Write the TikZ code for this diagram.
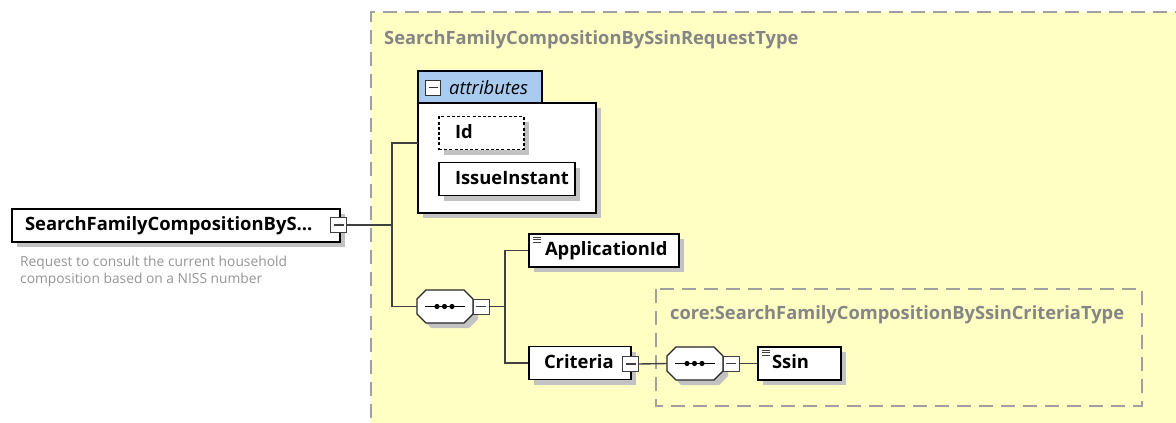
\documentclass[tikz,border=0pt]{standalone}
\usepackage{fontspec}
\setmainfont{Open Sans}
\usetikzlibrary{calc,shadows}
\definecolor{yel}{HTML}{FFFFC4}
\definecolor{dashgray}{HTML}{A0A0A0}
\definecolor{shad}{HTML}{C2C2C2}
\definecolor{tabblue}{HTML}{A9CBEF}
\definecolor{wire}{HTML}{404040}
\definecolor{titlegray}{HTML}{858585}
\definecolor{descgray}{HTML}{959595}
\newcommand\lblfont{\fontsize{18.4}{21}\selectfont\bfseries}
\newcommand\octpath[4]{({#1+9},#2) -- ({#3-9},#2) -- (#3,{#2+9}) -- (#3,{#4-9}) -- ({#3-9},#4) -- ({#1+9},#4) -- (#1,{#4-9}) -- (#1,{#2+9}) -- cycle}
\tikzset{
  sh/.style={drop shadow={shadow xshift=5pt, shadow yshift=-5pt, opacity=1, fill=shad}},
  elem/.style={sh, draw=black, line width=1.3pt, fill=white, inner sep=0pt, minimum height=33pt,
    font=\lblfont, text height=14pt, text depth=4pt},
  iconlines/.style={path picture={
      \foreach \k in {3,5.5,8}{\draw[line width=0.8pt, black!75]
        ([xshift=4pt,yshift=-\k pt]path picture bounding box.north west) -- ++(8pt,0);}}},
  expander/.style={draw=wire, line width=1pt, fill=white, minimum width=16pt, minimum height=15pt, inner sep=0pt,
    path picture={\draw[line width=1pt, wire] ([xshift=3pt]path picture bounding box.west) -- ([xshift=-3pt]path picture bounding box.east);}},
  wire/.style={draw=wire, line width=1.4pt},
  ghost/.style={draw=none, inner sep=0pt},
  dashbox/.style={draw=dashgray, line width=1.6pt, dash pattern=on 14pt off 8pt},
  typetitle/.style={anchor=west, text=titlegray, font=\fontsize{18.3}{21}\selectfont\bfseries, inner sep=0pt},
}
\begin{document}
\begin{tikzpicture}[x=1pt,y=-1pt]
\useasboundingbox (0,0) rectangle (1176,423);
\clip (0,0) rectangle (1176,423);
\fill[white] (0,0) rectangle (1176,423);
% outer complex type
\fill[yel] (371,12) rectangle (1200,440);
\draw[dashbox] (371,440) -- (371,12) -- (1200,12);
\node[typetitle] (outertitle) at (384,40) {SearchFamilyCompositionBySsinRequestType};
% inner complex type
\draw[dashbox] (656,289) rectangle (1142,406);
\node[typetitle] (innertitle) at (670,315) {core:SearchFamilyCompositionBySsinCriteriaType};

% root element
\node[elem, minimum width=328pt, text width=302pt, align=left] (root) at (176,225.5) {SearchFamilyCompositionByS...};
\node[expander] (rootexp) at (338.5,225) {};
\node[anchor=north west, inner sep=0pt, text=descgray, font=\fontsize{13.8}{17}\selectfont, align=left] (desc) at (20,256) {Request to consult the current household\\composition based on a NISS number};

% attributes
\fill[shad] (423,108) rectangle (601,218);
\node[draw=black, line width=1.3pt, fill=white, minimum width=178pt, minimum height=110pt, inner sep=0pt] (attrbody) at (507,158) {};
\node[draw=black, line width=1.3pt, fill=tabblue, minimum width=124pt, minimum height=32pt, inner sep=0pt] (attrtab) at (480,87) {};
\node[draw=black!80, line width=1pt, fill=white, minimum width=15pt, minimum height=15pt, inner sep=0pt,
  path picture={\draw[line width=1pt] ([xshift=3pt]path picture bounding box.west) -- ([xshift=-3pt]path picture bounding box.east);}] (attrexp) at (433,87.5) {};
\node[anchor=west, inner sep=0pt, font=\fontsize{18.4}{21}\selectfont\itshape] (attrlbl) at (449,88) {attributes};
\node[elem, dash pattern=on 3pt off 2.2pt, minimum width=85pt, text width=53pt, align=left] (id) at (481.5,133) {Id};
\node[elem, minimum width=136pt, text width=104pt, align=left] (issue) at (507,179) {IssueInstant};

% sequence 1
\node[ghost, minimum width=56pt, minimum height=33pt] (seq1) at (445,306.5) {};
\fill[shad, shift={(5,5)}] \octpath{417}{290}{473}{323};
\draw[draw=black!85, line width=1.3pt, fill=white] \octpath{417}{290}{473}{323};
\draw[line width=1.2pt] (425,306.5) -- (465,306.5);
\foreach \dx in {437,444.5,452}{\fill (\dx,306.5) circle (2.6pt);}
\node[expander] (seq1exp) at (481,306.5) {};

\node[elem, iconlines, minimum width=150pt, text width=118pt, align=left] (appid) at (604,250.5) {ApplicationId};
\node[elem, minimum width=102pt, text width=72pt, align=left] (crit) at (580,363) {Criteria};
\node[expander] (critexp) at (630.5,364) {};

% sequence 2
\node[ghost, minimum width=56pt, minimum height=33pt] (seq2) at (695,363.5) {};
\fill[shad, shift={(5,5)}] \octpath{667}{347}{723}{380};
\draw[draw=black!85, line width=1.3pt, fill=white] \octpath{667}{347}{723}{380};
\draw[line width=1.2pt] (675,363.5) -- (715,363.5);
\foreach \dx in {687,694.5,702}{\fill (\dx,363.5) circle (2.6pt);}
\node[expander] (seq2exp) at (731,363.5) {};
\node[elem, iconlines, minimum width=83pt, text width=55pt, align=left] (ssin) at (799.5,363.5) {Ssin};

% connectors
\coordinate (j1) at (392,225);
\coordinate (attrin) at (418,143);
\coordinate (j2) at (505,306.5);
\draw[wire] (rootexp.east) -- (j1);
\draw[wire] (attrin) -| (j1) |- (seq1.west);
\draw[wire] (seq1exp.east) -- (j2);
\draw[wire] (appid.west) -| (j2) |- (crit.west);
\draw[wire] (critexp.east) -- (seq2.west);
\draw[wire] (seq2exp.east) -- (ssin.west);
\end{tikzpicture}
\end{document}
